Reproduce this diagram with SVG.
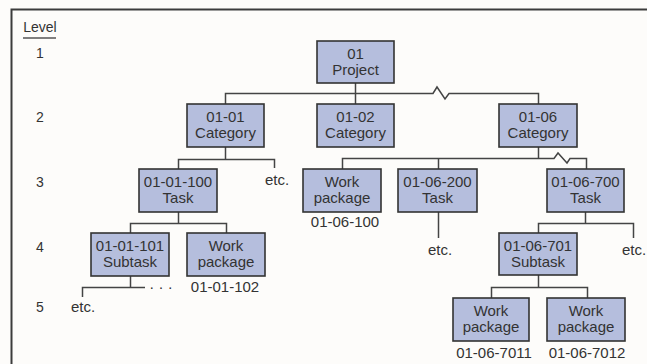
<svg xmlns="http://www.w3.org/2000/svg" width="647" height="364" viewBox="0 0 647 364">
  <style>
    .box { fill: #b5bedd; stroke: #333; stroke-width: 1.6; }
    .lbl { font-family: "Liberation Sans", Arial, sans-serif; font-size: 15px; fill: #333; text-anchor: middle; }
    .lvl { font-family: "Liberation Sans", Arial, sans-serif; font-size: 14px; fill: #333; text-anchor: middle; }
    .wire { fill: none; stroke: #444; stroke-width: 1.5; }
  </style>
  <rect width="647" height="364" fill="#fdfcfa"/>
  <!-- frame -->
  <path d="M11.5 370 V9.5 H660" fill="none" stroke="#3c3c3c" stroke-width="2"/>

  <!-- level column -->
  <g id="levels">
    <text class="lvl" x="40" y="32">Level</text>
    <line x1="23" y1="38" x2="56" y2="38" stroke="#555" stroke-width="1.5"/>
    <text class="lvl" x="40" y="58">1</text>
    <text class="lvl" x="40" y="122">2</text>
    <text class="lvl" x="40" y="187">3</text>
    <text class="lvl" x="40" y="252">4</text>
    <text class="lvl" x="40" y="312">5</text>
  </g>

  <g id="connectors" class="wire">
    <!-- level 1 to 2 -->
    <path d="M355.5 83 V93.5"/>
    <path d="M225.5 104 V93.5 H433 L437 87 L445 99 L449 93.5 H538.5 V104"/>
    <path d="M355.5 93.5 V104"/>
    <!-- 01-01 to level 3 -->
    <path d="M225.5 147 V159.5"/>
    <path d="M178.5 169 V159.5 H274.5 V168"/>
    <!-- 01-01-100 to level 4 -->
    <path d="M178.5 212 V223.5"/>
    <path d="M130.5 233 V223.5 H226.5 V233"/>
    <!-- 01-01-101 to level 5 -->
    <path d="M130.5 276 V287.5"/>
    <path d="M82.5 297 V287.5 H145"/>
    <!-- 01-06 to level 3 -->
    <path d="M538.5 147 V158.5"/>
    <path d="M342.5 169 V158.5 H554 L558 153 L567 163 L570 158.5 H586.5 V169"/>
    <path d="M438.5 158.5 V169"/>
    <!-- 01-06-200 -->
    <path d="M438.5 212 V238"/>
    <!-- 01-06-700 to level 4 -->
    <path d="M585.5 212 V223.5"/>
    <path d="M538.5 233 V223.5 H633.5 V238"/>
    <!-- 01-06-701 to level 5 -->
    <path d="M538.5 275 V287.5"/>
    <path d="M491.5 298 V287.5 H587.5 V298"/>
  </g>

  <g id="n-01">
    <rect class="box" x="317" y="41" width="77" height="42"/>
    <text class="lbl" x="355.5" y="59">01</text>
    <text class="lbl" x="355.5" y="75">Project</text>
  </g>

  <g id="n-01-01">
    <rect class="box" x="187" y="104" width="77" height="43"/>
    <text class="lbl" x="225.5" y="122">01-01</text>
    <text class="lbl" x="225.5" y="138">Category</text>
  </g>
  <g id="n-01-02">
    <rect class="box" x="317" y="104" width="77" height="43"/>
    <text class="lbl" x="355.5" y="122">01-02</text>
    <text class="lbl" x="355.5" y="138">Category</text>
  </g>
  <g id="n-01-06">
    <rect class="box" x="499" y="104" width="78" height="43"/>
    <text class="lbl" x="538" y="122">01-06</text>
    <text class="lbl" x="538" y="138">Category</text>
  </g>

  <g id="n-01-01-100">
    <rect class="box" x="139" y="169" width="78" height="43"/>
    <text class="lbl" x="178" y="187">01-01-100</text>
    <text class="lbl" x="178" y="203">Task</text>
  </g>
  <g id="etc-01-01">
    <text class="lbl" x="277" y="185">etc.</text>
  </g>

  <g id="n-01-06-100">
    <rect class="box" x="303" y="169" width="78" height="43"/>
    <text class="lbl" x="342" y="187">Work</text>
    <text class="lbl" x="342" y="203">package</text>
    <text class="lbl" x="345" y="227">01-06-100</text>
  </g>
  <g id="n-01-06-200">
    <rect class="box" x="398" y="169" width="79" height="43"/>
    <text class="lbl" x="437.5" y="187">01-06-200</text>
    <text class="lbl" x="437.5" y="203">Task</text>
  </g>
  <g id="etc-01-06-200">
    <text class="lbl" x="440" y="255">etc.</text>
  </g>
  <g id="n-01-06-700">
    <rect class="box" x="547" y="169" width="77" height="43"/>
    <text class="lbl" x="585.5" y="187">01-06-700</text>
    <text class="lbl" x="585.5" y="203">Task</text>
  </g>

  <g id="n-01-01-101">
    <rect class="box" x="91" y="233" width="78" height="43"/>
    <text class="lbl" x="130" y="251">01-01-101</text>
    <text class="lbl" x="130" y="267">Subtask</text>
  </g>
  <g id="n-01-01-102">
    <rect class="box" x="187" y="233" width="78" height="43"/>
    <text class="lbl" x="226" y="251">Work</text>
    <text class="lbl" x="226" y="267">package</text>
    <text class="lbl" x="225" y="292">01-01-102</text>
  </g>
  <g id="more-01-01-101">
    <text class="lbl" x="161" y="292" fill="#777">· · ·</text>
  </g>
  <g id="etc-01-01-101">
    <text class="lbl" x="83" y="312">etc.</text>
  </g>

  <g id="n-01-06-701">
    <rect class="box" x="499" y="233" width="78" height="42"/>
    <text class="lbl" x="538" y="251">01-06-701</text>
    <text class="lbl" x="538" y="267">Subtask</text>
  </g>
  <g id="etc-01-06-700">
    <text class="lbl" x="634" y="255">etc.</text>
  </g>

  <g id="n-01-06-7011">
    <rect class="box" x="453" y="298" width="76" height="43"/>
    <text class="lbl" x="491" y="316">Work</text>
    <text class="lbl" x="491" y="332">package</text>
    <text class="lbl" x="494" y="358">01-06-7011</text>
  </g>
  <g id="n-01-06-7012">
    <rect class="box" x="547" y="298" width="78" height="43"/>
    <text class="lbl" x="586" y="316">Work</text>
    <text class="lbl" x="586" y="332">package</text>
    <text class="lbl" x="587" y="358">01-06-7012</text>
  </g>
</svg>
